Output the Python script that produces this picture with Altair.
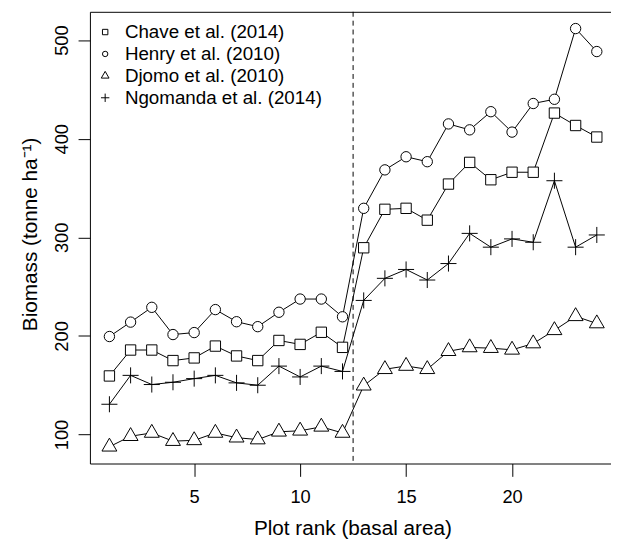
import altair as alt
import pandas as pd

# ---- data ----
rank = list(range(1, 25))
chave = [159.4, 185.7, 185.7, 175.0, 177.7, 189.7, 179.7, 175.0, 195.4, 191.4, 203.7, 188.4,
         289.4, 328.4, 329.4, 317.4, 354.0, 376.0, 358.4, 366.0, 366.0, 426.0, 413.4, 401.7]
henry = [199.4, 214.0, 229.0, 201.4, 203.4, 226.7, 214.4, 209.4, 224.0, 237.4, 237.4, 219.4,
         329.4, 368.4, 381.7, 376.7, 415.0, 409.0, 427.4, 406.7, 435.7, 440.0, 511.7, 488.4]
djomo = [87.6, 98.3, 101.6, 93.3, 94.1, 101.6, 96.8, 94.9, 102.8, 103.8, 107.8, 101.6,
         149.5, 166.2, 169.5, 166.2, 184.5, 188.3, 187.6, 185.9, 192.3, 205.7, 219.9, 212.6]
ngomanda = [130.7, 160.0, 150.7, 153.0, 156.7, 160.0, 152.4, 150.0, 169.4, 158.4, 169.4, 164.0,
            236.0, 258.4, 267.4, 256.7, 273.4, 304.0, 290.0, 298.4, 295.0, 357.4, 290.0, 302.4]
series_names = ["Chave et al. (2014)", "Henry et al. (2010)",
                "Djomo et al. (2010)", "Ngomanda et al. (2014)"]
split_rank = [12.5]
x_ticks = [5, 10, 15, 20]
y_ticks = [100, 200, 300, 400, 500]

rows = []
for name, vals in zip(series_names, [chave, henry, djomo, ngomanda]):
    for r, v in zip(rank, vals):
        rows.append({"rank": r, "biomass": v, "study": name})
df = pd.DataFrame(rows)
rule_df = pd.DataFrame({"split": split_rank})

FONT = "Liberation Sans"
SQUARE = "M-1,-1H1V1H-1Z"
TRI = "M0,-1.663L1.44,0.831L-1.44,0.831Z"
PLUS = "M-1.55,0H1.55M0,-1.55V1.55"

xscale = alt.Scale(domain=[0.08, 24.67], nice=False, zero=False)
yscale = alt.Scale(domain=[70.6, 528.7], nice=False, zero=False)

x_axis = alt.Axis(
    values=x_ticks, tickSize=13, tickColor="black", tickWidth=1,
    domainColor="black", domainWidth=1, grid=False,
    labelFont=FONT, labelFontSize=18.5, labelColor="black",
    labelBaseline="alphabetic", labelPadding=26, labelFlush=False, labelOverlap=False,
    title="Plot rank (basal area)", titleFont=FONT, titleFontSize=21,
    titleFontWeight="normal", titleColor="black", titleX=266, titleY=72.3,
    titleBaseline="alphabetic", titleAlign="center", titleAngle=0,
)
y_axis = alt.Axis(
    values=y_ticks, tickSize=12, tickColor="black", tickWidth=1,
    domainColor="black", domainWidth=1, grid=False,
    labelFont=FONT, labelFontSize=18.5, labelColor="black",
    labelAngle=270, labelAlign="center", labelBaseline="alphabetic",
    labelPadding=10.7, labelFlush=False, labelOverlap=False,
    title="Biomass (tonne ha\u207b\u00b9)", titleFont=FONT, titleFontSize=21,
    titleFontWeight="normal", titleColor="black", titleAngle=270,
    titleX=-54.3, titleY=225, titleBaseline="alphabetic", titleAlign="center",
)

base = alt.Chart(df)

lines = base.mark_line(color="black", strokeWidth=1).encode(
    x=alt.X("rank:Q", scale=xscale, axis=x_axis),
    y=alt.Y("biomass:Q", scale=yscale, axis=y_axis),
    detail="study:N",
)

points = base.mark_point(
    fill="white", fillOpacity=1, stroke="black", strokeWidth=1, opacity=1, size=110
).encode(
    x=alt.X("rank:Q", scale=xscale, axis=None),
    y=alt.Y("biomass:Q", scale=yscale, axis=y_axis),
    shape=alt.Shape(
        "study:N",
        scale=alt.Scale(domain=series_names, range=[SQUARE, "circle", TRI, PLUS]),
        legend=alt.Legend(
            orient="none", legendX=5.95, legendY=11.0, title=None,
            labelFont=FONT, labelFontSize=19, labelColor="black", labelOffset=10.5,
            rowPadding=2.2, padding=0, symbolSize=30, symbolStrokeWidth=1,
            labelLimit=400,
        ),
    ),
)

rule = alt.Chart(rule_df).mark_rule(color="black", strokeWidth=1, strokeDash=[5, 4]).encode(
    x=alt.X("split:Q", scale=xscale,
            axis=alt.Axis(orient="top", labels=False, ticks=False, title=None,
                          domain=True, domainColor="black", domainWidth=1, grid=False)),
)

chart = (
    alt.layer(lines, points, rule)
    .resolve_axis(x="independent")
    .properties(
        width=528, height=457.7,
        autosize=alt.AutoSizeParams(type="none"),
        padding={"left": 83, "top": 0.3, "right": 0, "bottom": 79},
        background="white",
    )
    .configure_view(stroke=None)
)

chart.save("out.html", embed_options={"renderer": "svg", "actions": False})
